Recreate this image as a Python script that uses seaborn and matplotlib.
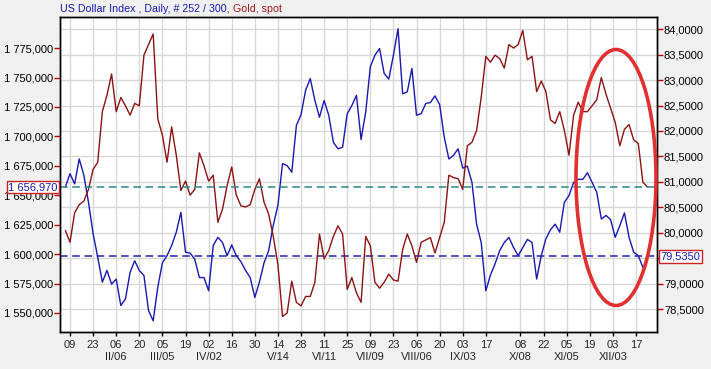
import numpy as np
import pandas as pd
import matplotlib
matplotlib.use('Agg')
import matplotlib.pyplot as plt
import matplotlib.ticker as mticker
from matplotlib.patches import Ellipse
import seaborn as sns

# values, one every second trading day of 2012
start = '2012-01-05'
gold = [1620, 1610, 1635, 1642, 1645, 1655, 1672, 1678, 1721, 1735,
        1753, 1721, 1733, 1726, 1718, 1728, 1726, 1769, 1778, 1787,
        1715, 1701, 1678, 1708, 1684, 1654, 1662, 1650, 1655, 1686,
        1675, 1662, 1667, 1627, 1638, 1658, 1674, 1650, 1641, 1640,
        1642, 1655, 1664, 1644, 1634, 1615, 1591, 1547, 1550, 1577,
        1559, 1556, 1564, 1564, 1576, 1617, 1596, 1603, 1615, 1624,
        1617, 1570, 1580, 1567, 1559, 1615, 1607, 1576, 1571, 1576,
        1583, 1578, 1577, 1604, 1617, 1607, 1593, 1610, 1612, 1614,
        1601, 1614, 1627, 1667, 1665, 1664, 1655, 1692, 1695, 1705,
        1733, 1768, 1763, 1769, 1766, 1758, 1778, 1775, 1778, 1790,
        1765, 1768, 1738, 1747, 1738, 1714, 1711, 1721, 1705, 1684,
        1718, 1729, 1721, 1721, 1726, 1731, 1750, 1736, 1724, 1712,
        1692, 1706, 1710, 1697, 1694, 1661, 1657]
usd = [80.90, 81.16, 80.96, 81.45, 81.13, 80.60, 79.98, 79.52, 79.03, 79.26,
       78.99, 79.09, 78.57, 78.70, 79.22, 79.45, 79.26, 79.16, 78.47, 78.27,
       78.93, 79.41, 79.55, 79.75, 80.01, 80.40, 79.62, 79.60, 79.48, 79.12,
       79.12, 78.86, 79.75, 79.91, 79.81, 79.55, 79.76, 79.55, 79.43, 79.26,
       79.12, 78.73, 79.03, 79.41, 79.65, 80.15, 80.54, 81.36, 81.32, 81.19,
       82.11, 82.32, 82.80, 83.03, 82.60, 82.27, 82.60, 82.31, 81.78, 81.65,
       81.68, 82.34, 82.50, 82.70, 81.83, 82.37, 83.26, 83.49, 83.62, 83.13,
       83.02, 83.49, 84.01, 82.73, 82.77, 83.23, 82.31, 82.34, 82.54, 82.56,
       82.69, 82.52, 81.88, 81.45, 81.52, 81.65, 81.27, 81.31, 80.99, 80.17,
       79.81, 78.86, 79.17, 79.39, 79.65, 79.81, 79.91, 79.71, 79.55, 79.71,
       79.87, 79.81, 79.09, 79.55, 79.88, 80.06, 80.17, 80.01, 80.60, 80.73,
       80.99, 81.05, 81.05, 81.18, 80.99, 80.80, 80.27, 80.34, 80.26, 79.91,
       80.14, 80.39, 79.91, 79.62, 79.55, 79.32]
gold_last = 1656.97
usd_last = 79.535

tick_dates = ['2012-01-09', '2012-01-23', '2012-02-06', '2012-02-20', '2012-03-05',
              '2012-03-19', '2012-04-02', '2012-04-16', '2012-04-30', '2012-05-14',
              '2012-05-28', '2012-06-11', '2012-06-25', '2012-07-09', '2012-07-23',
              '2012-08-06', '2012-08-20', '2012-09-03', '2012-09-17', '2012-10-08',
              '2012-10-22', '2012-11-05', '2012-11-19', '2012-12-03', '2012-12-17']
month_marks = {'2012-02-06': 'II/06', '2012-03-05': 'III/05', '2012-04-02': 'IV/02',
               '2012-05-14': 'V/14', '2012-06-11': 'VI/11', '2012-07-09': 'VII/09',
               '2012-08-06': 'VIII/06', '2012-09-03': 'IX/03', '2012-10-08': 'X/08',
               '2012-11-05': 'XI/05', '2012-12-03': 'XII/03'}
gold_ticks = [1550, 1575, 1600, 1625, 1650, 1675, 1700, 1725, 1750, 1775]
usd_ticks = [78.5, 79.0, 79.5, 80.0, 80.5, 81.0, 81.5, 82.0, 82.5, 83.0, 83.5, 84.0]

BLUE = '#1818b0'
RED = '#8c1212'

def day_no(dates):
    d = pd.to_datetime(pd.Index(dates)).values.astype('datetime64[D]')
    return np.busday_count(np.datetime64('2012-01-02'), d)

gold_x = day_no(pd.bdate_range(start, periods=len(gold), freq='2B'))
usd_x = day_no(pd.bdate_range(start, periods=len(usd), freq='2B'))
tick_x = day_no(tick_dates)
tick_lab = [d[-2:] + ('\n' + month_marks[d] if d in month_marks else '\n') for d in tick_dates]

sns.set_style('white')
plt.rcParams['font.family'] = ['Liberation Sans', 'DejaVu Sans']

fig = plt.figure(figsize=(7.11, 3.69), dpi=100, facecolor='#f0f0f0')
ax = fig.add_axes([60/711, 1 - 332/369, 597/711, 315/369])
ax2 = ax.twinx()
ax.set_zorder(2)
ax2.set_zorder(1)
ax.patch.set_visible(False)
ax2.patch.set_visible(True)
ax2.patch.set_facecolor('white')

sns.lineplot(x=usd_x, y=usd, ax=ax2, color=BLUE, lw=1, estimator=None)
sns.lineplot(x=gold_x, y=gold, ax=ax, color=RED, lw=1, estimator=None)
ax.axhline(gold_last, color='#2a8888', ls=(0, (5, 3)), lw=1.1)
ax2.axhline(usd_last, color='#2020b0', ls=(0, (5, 3)), lw=1.1)

ax.set_xlim(0.67, 259.1)
ax.set_ylim(1533.8, 1801.4)
ax2.set_ylim(78.05, 84.24)
ax.set_xticks(tick_x)
ax.set_xticklabels(tick_lab, linespacing=1.35)
ax.set_yticks(gold_ticks)
ax2.set_yticks(usd_ticks)
ax.yaxis.set_major_formatter(mticker.FuncFormatter(lambda v, p: f"{int(v) // 1000} {int(v) % 1000:03d},000"))
# the last-value box hides the 79,5000 label, as in the source chart
ax2.yaxis.set_major_formatter(mticker.FuncFormatter(
    lambda v, p: '' if abs(v - usd_last) < 0.1 else f"{v:.4f}".replace('.', ',')))
for a in (ax, ax2):
    a.set_xlabel('')
    a.set_ylabel('')
    for s in a.spines.values():
        s.set_color('black')
        s.set_linewidth(1)

ax2.xaxis.set_visible(True)
ax2.tick_params(axis='x', bottom=False, top=False, labelbottom=False, labeltop=False)
ax2.grid(True, color='#d8d8d8', lw=1)
ax.grid(False)
ax.tick_params(axis='y', left=True, color='#c00000', length=4, width=1, pad=1, labelsize=8, labelcolor='black')
ax2.tick_params(axis='y', right=True, color='#c00000', length=4, width=1, pad=1, labelsize=8, labelcolor='black')
ax.tick_params(axis='x', bottom=True, color='black', length=3, width=1, pad=2.5, labelsize=8)

gtxt = f"{int(gold_last) // 1000} {gold_last % 1000:07.3f}".replace('.', ',')
ax.text(-0.004, gold_last, gtxt, transform=ax.get_yaxis_transform(), ha='right', va='center',
        color=BLUE, fontsize=8, zorder=10, clip_on=False,
        bbox=dict(boxstyle='square,pad=0.12', fc='white', ec='#d02020', lw=1))
ax2.text(1.006, usd_last, f"{usd_last:.4f}".replace('.', ','), transform=ax2.get_yaxis_transform(),
         ha='left', va='center', color=BLUE, fontsize=8, zorder=10, clip_on=False,
         bbox=dict(boxstyle='square,pad=0.12', fc='white', ec='#d02020', lw=1))

t1 = fig.text(60/711, 1 - 9/369, 'US Dollar Index , Daily, # 252 / 300,', color=BLUE,
              fontsize=7.7, ha='left', va='center')
ax.annotate(' Gold, spot', xy=(1, 0.5), xycoords=t1, ha='left', va='center',
            color='#a01818', fontsize=7.7, annotation_clip=False)

ell = Ellipse((616/711, 1 - 177.5/369), 80/711, 256/369, transform=fig.transFigure,
              fill=False, ec='#e03030', lw=2.6, clip_on=False, zorder=20)
fig.add_artist(ell)

fig.savefig('out.png', dpi=100, facecolor=fig.get_facecolor())
